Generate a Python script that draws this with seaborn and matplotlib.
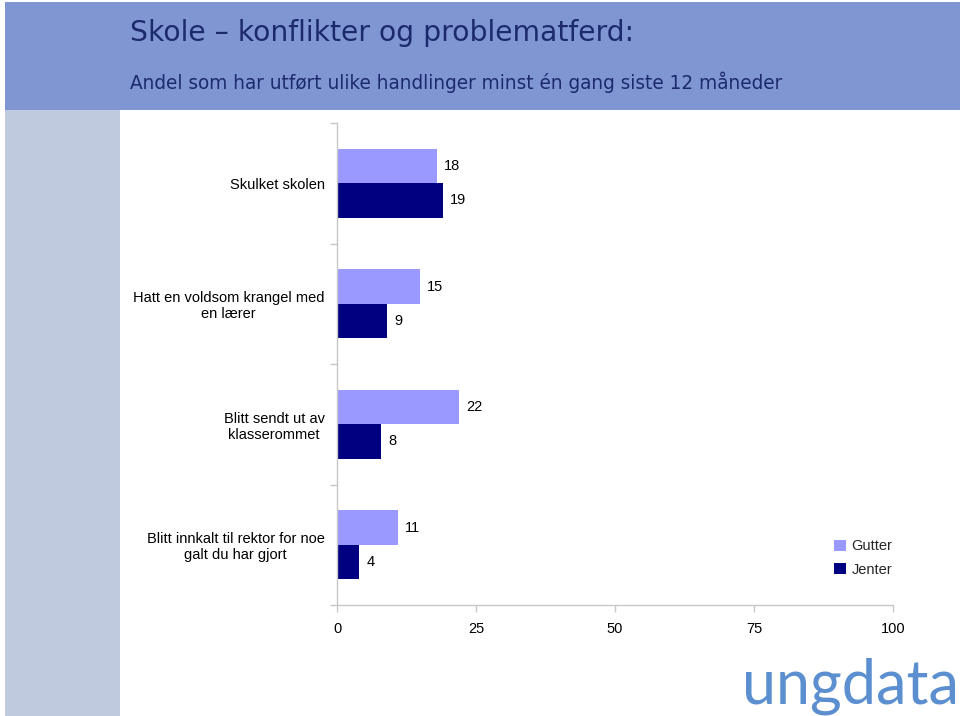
import matplotlib
matplotlib.use("Agg")
import matplotlib.pyplot as plt
from matplotlib.patches import Rectangle, Patch
import seaborn as sns
import pandas as pd

categories = [
    "Skulket skolen",
    "Hatt en voldsom krangel med\nen lærer",
    "Blitt sendt ut av\nklasserommet",
    "Blitt innkalt til rektor for noe\ngalt du har gjort",
]
gutter = [18, 15, 22, 11]
jenter = [19, 9, 8, 4]
series_names = ["Gutter", "Jenter"]
x_ticks = [0, 25, 50, 75, 100]

title = "Skole – konflikter og problematferd:"
subtitle = "Andel som har utført ulike handlinger minst én gang siste 12 måneder"

df = pd.DataFrame({
    "kategori": categories * 2,
    "verdi": gutter + jenter,
    "kjønn": [series_names[0]] * len(categories) + [series_names[1]] * len(categories),
})

sns.set_theme(style="white")
plt.rcParams["font.family"] = ["Liberation Sans", "DejaVu Sans"]

fig = plt.figure(figsize=(9.6, 7.16), dpi=100)
fig.patch.set_facecolor("white")

W, H = 960, 716
def fx(px): return px / W
def fy(py): return 1 - py / H

# header band and left strip
fig.patches.append(Rectangle((fx(5), fy(110)), fx(955), 108 / H, transform=fig.transFigure,
                             facecolor="#7f96d3", edgecolor="none", zorder=0))
fig.patches.append(Rectangle((fx(5), 0), fx(115), fy(110), transform=fig.transFigure,
                             facecolor="#bfcadf", edgecolor="none", zorder=0))

fig.text(fx(130), fy(33), title, fontsize=20.3, color="#1c2a6c", family="DejaVu Sans",
         ha="left", va="center")
fig.text(fx(130), fy(82), subtitle, fontsize=13.35, color="#1c2a6c", family="DejaVu Sans",
         ha="left", va="center")

ax = fig.add_axes([fx(337), fy(605), fx(893 - 337), (605 - 123) / H])
palette = {"Gutter": "#9999ff", "Jenter": "#000080"}
sns.barplot(data=df, y="kategori", x="verdi", hue="kjønn", order=categories,
            hue_order=series_names, palette=palette, orient="h", width=0.57,
            saturation=1, ax=ax, legend=False, linewidth=0, edgecolor="none")

for cont in ax.containers:
    ax.bar_label(cont, padding=5, fontsize=10.5, color="black")

ax.set_xlim(0, 100)
ax.set_ylim(len(categories) - 0.5, -0.5)
ax.set_xticks(x_ticks)
ax.set_xticklabels([str(t) for t in x_ticks])
ax.set_xlabel("")
ax.set_ylabel("")
ax.set_yticks(range(len(categories)))
ax.set_yticklabels(categories, multialignment="center")
ax.set_yticks([i - 0.5 for i in range(len(categories) + 1)], minor=True)
ax.tick_params(axis="y", which="major", length=0, pad=9, labelsize=10.5, labelcolor="black")
ax.tick_params(axis="y", which="minor", length=5, width=1, color="#c8c8c8", direction="out", left=True)
ax.tick_params(axis="x", which="major", length=5, width=1, color="#c8c8c8", direction="out",
               bottom=True, pad=7, labelsize=10.5, labelcolor="black")
for s in ["top", "right"]:
    ax.spines[s].set_visible(False)
for s in ["left", "bottom"]:
    ax.spines[s].set_color("#c8c8c8")
    ax.spines[s].set_linewidth(1)
ax.set_facecolor("white")

handles = [Patch(facecolor=palette[n], edgecolor="none", label=n) for n in series_names]
fig.legend(handles=handles, loc="center left", bbox_to_anchor=(fx(821), fy(558)),
           frameon=False, fontsize=10.5, handlelength=0.8, handleheight=0.8,
           handletextpad=0.4, labelspacing=0.65)

fig.text(fx(850), fy(686), "ungdata", fontsize=44, color="#5b8fd0", family="Lato",
         fontweight="normal", ha="center", va="center")

fig.savefig("out.png", dpi=100, facecolor="white")
